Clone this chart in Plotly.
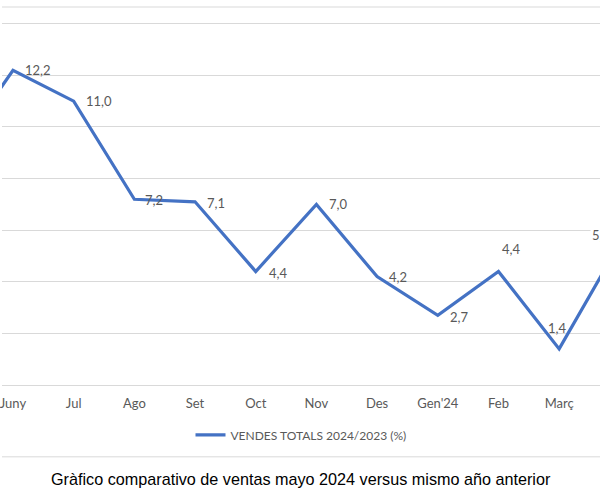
import plotly.graph_objects as go

# ---- data ----
months = ["Maig", "Juny", "Jul", "Ago", "Set", "Oct", "Nov", "Des", "Gen'24", "Feb", "Març", "Abr"]
values = [8.8, 12.2, 11.0, 7.2, 7.1, 4.4, 7.0, 4.2, 2.7, 4.4, 1.4, 5.5]
series_name = "VENDES TOTALS 2024/2023 (%)"
caption = "Gràfico comparativo de ventas mayo 2024 versus mismo año anterior"

# label offsets in screen px (right, down) relative to each point
label_dx = [10, 10, 10, 9, 10, 11, 11, 10, 10, 2, -13, -30]
label_dy = [0, 0, 0, 1, 1, 2, 0, 0, 2, -22, -21, -8]

line_color = "#4472C4"
text_color = "#595959"
grid_color = "#D9D9D9"
font_family = "Lato, 'Open Sans', sans-serif"

fig = go.Figure()
fig.add_trace(go.Scatter(
    x=months, y=values, mode="lines", name=series_name,
    line=dict(color=line_color, width=3.2),
    cliponaxis=True,
))

x_range = [0.819, 10.673]
first_in = 1
last_in = len(months) - 2
annotations = []
for i, (m, v) in enumerate(zip(months, values)):
    base = dict(
        text=f"{v:.1f}".replace(".", ","),
        xanchor="left", yanchor="middle",
        xshift=label_dx[i], yshift=-label_dy[i],
        font=dict(family=font_family, size=13, color=text_color),
    )
    if x_range[0] <= i <= x_range[1]:
        base.update(x=m, y=v, xref="x", yref="y", showarrow=False)
    else:
        # label of a point outside the visible window: anchor an invisible arrow
        # head inside the window and place the text at the (data) tail
        j = first_in if i < x_range[0] else last_in
        base.update(x=months[j], y=values[j], xref="x", yref="y",
                    showarrow=True, arrowcolor="rgba(0,0,0,0)", arrowwidth=0.1,
                    axref="x", ayref="y", ax=m, ay=v, bgcolor="white")
    annotations.append(base)

annotations.append(dict(
    x=0.5, y=-0.249, xref="paper", yref="paper", text=caption, showarrow=False,
    xanchor="center", yanchor="middle",
    font=dict(family="Liberation Sans, Arial, sans-serif", size=16.2, color="black"),
))

fig.update_layout(
    width=600, height=500,
    margin=dict(l=0, r=0, t=7, b=115),
    paper_bgcolor="white", plot_bgcolor="white",
    showlegend=True,
    legend=dict(orientation="h", x=0.5, xanchor="center", y=-0.132, yanchor="middle",
                font=dict(family=font_family, size=12, color=text_color)),
    xaxis=dict(range=x_range, showgrid=False, showline=True, linecolor=grid_color, linewidth=1,
               ticks="", ticklabelstandoff=6,
               tickfont=dict(family=font_family, size=13, color=text_color)),
    yaxis=dict(range=[0, 14.65], dtick=2, showgrid=True, gridcolor=grid_color, gridwidth=1,
               zeroline=False, showticklabels=False, ticks=""),
    annotations=annotations,
    shapes=[
        dict(type="line", xref="paper", yref="paper", x0=0, x1=1, y0=1, y1=1,
             line=dict(color=grid_color, width=1)),
        dict(type="line", xref="paper", yref="paper", x0=0, x1=1, y0=-0.19, y1=-0.19,
             line=dict(color=grid_color, width=1)),
    ],
)

fig.write_html(
    "out.html",
    config={"displayModeBar": False},
    post_script="document.body.style.margin='0';document.body.style.overflow='hidden';",
)
